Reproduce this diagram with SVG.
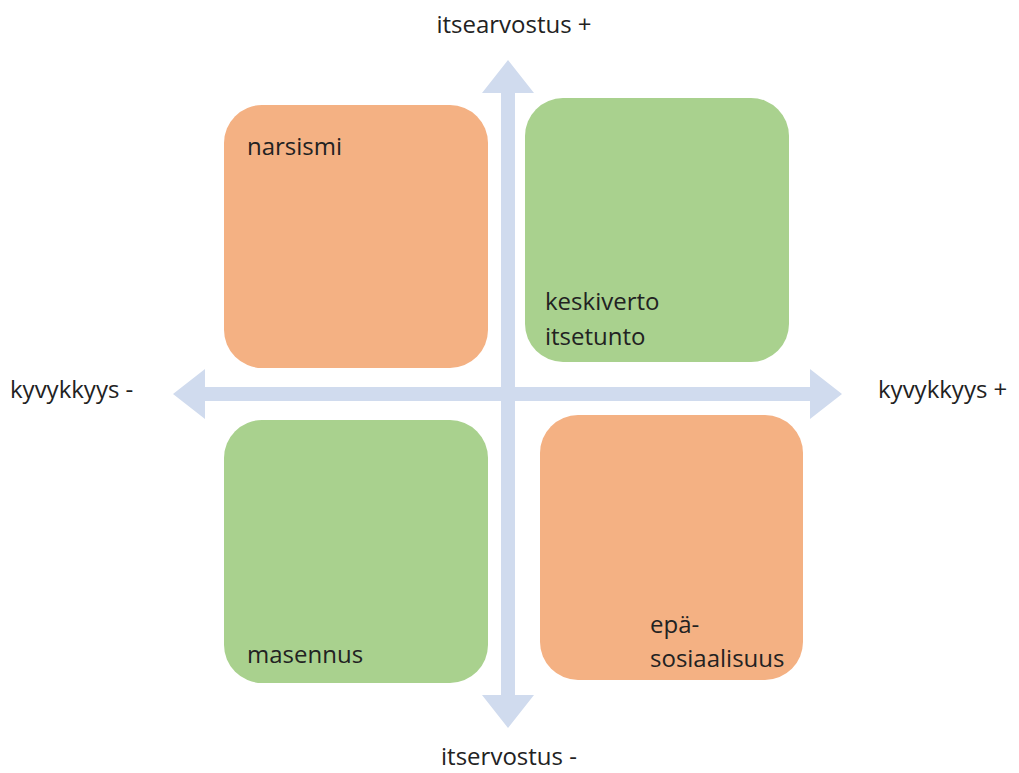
<svg xmlns="http://www.w3.org/2000/svg" width="1019" height="773" viewBox="0 0 1019 773">
  <style>
    .axis { fill: #D0DBEE; }
    .box { stroke: none; }
    .orange { fill: #F4B183; }
    .green { fill: #A9D18E; }
    text { font-family: "Open Sans", "Liberation Sans", sans-serif; font-size: 24px; fill: #222222; }
    .mid { text-anchor: middle; }
  </style>
  <rect width="1019" height="773" fill="#FFFFFF"/>
  <g id="connectors">
    <path class="axis" d="M173,394 L205,369 L205,387 L810,387 L810,369 L842,394 L810,419 L810,401 L205,401 L205,419 Z"/>
    <path class="axis" d="M508,60 L534,93 L515,93 L515,695 L534,695 L508,728 L482,695 L501,695 L501,93 L482,93 Z"/>
  </g>
  <g id="axis-labels">
    <text class="mid" x="514" y="33">itsearvostus +</text>
    <text class="mid" x="509" y="765">itservostus -</text>
    <text x="10" y="398">kyvykkyys -</text>
    <text x="878" y="398">kyvykkyys +</text>
  </g>
  <g id="narsismi">
    <rect class="box orange" x="224" y="105" width="264" height="263" rx="38" ry="38"/>
    <text x="247" y="155">narsismi</text>
  </g>
  <g id="keskiverto-itsetunto">
    <rect class="box green" x="525" y="98" width="264" height="264" rx="38" ry="38"/>
    <text x="545" y="310">keskiverto</text>
    <text x="545" y="345">itsetunto</text>
  </g>
  <g id="masennus">
    <rect class="box green" x="224" y="420" width="264" height="263" rx="38" ry="38"/>
    <text x="247" y="663">masennus</text>
  </g>
  <g id="epasosiaalisuus">
    <rect class="box orange" x="540" y="415" width="263" height="265" rx="38" ry="38"/>
    <text x="650" y="633">epä-</text>
    <text x="650" y="667">sosiaalisuus</text>
  </g>
</svg>
